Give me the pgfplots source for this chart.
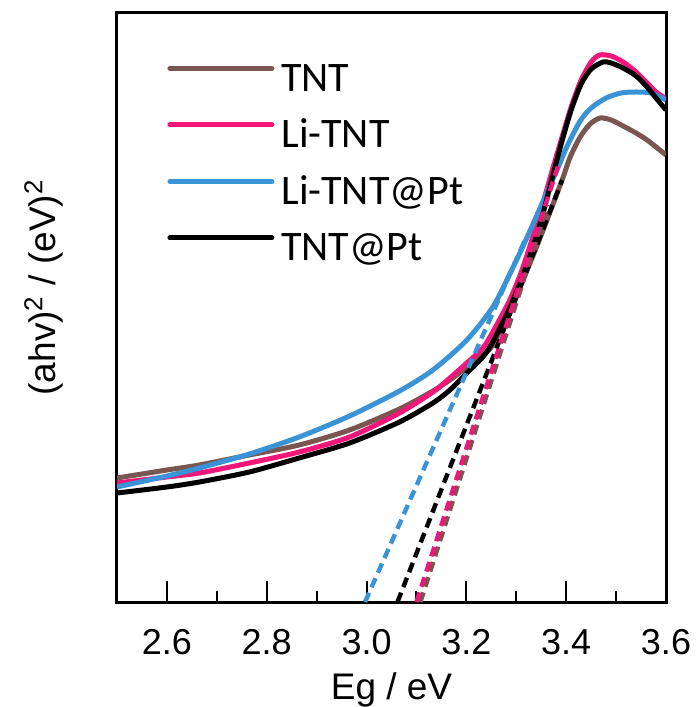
\documentclass[border=0pt]{standalone}
\usepackage{fontspec}
\setmainfont{Liberation Sans}
\newfontfamily\legendfont{Carlito}
\usepackage{pgfplots}
\usepackage{pgfplotstable}
\pgfplotsset{compat=1.18}
\definecolor{cbrown}{RGB}{122,86,80}
\definecolor{cpink}{RGB}{240,22,122}
\definecolor{cblue}{RGB}{58,147,214}

\pgfplotstableread{
x y
2.500 124
2.600 132
2.665 137
2.765 147
2.865 157
2.966 172
3.066 193
3.133 211
3.167 222
3.201 235
3.233 247
3.253 257
3.287 292
3.310 318
3.330 342
3.350 367
3.370 393
3.394 425
3.408 445
3.428 465
3.448 478
3.468 484
3.490 482
3.514 476
3.540 469
3.562 462
3.580 455
3.600 447
}\tnt

\pgfplotstableread{
x y
2.500 119
2.600 125
2.665 129
2.765 139
2.865 150
2.966 165
3.066 189
3.133 210
3.167 224
3.201 239
3.233 254
3.253 270
3.287 302
3.310 330
3.330 360
3.350 393
3.370 428
3.390 462
3.410 495
3.430 522
3.450 540
3.467 547
3.490 546
3.514 540
3.540 530
3.562 519
3.580 510
3.600 503
}\litnt

\pgfplotstableread{
x y
2.500 115
2.600 126
2.665 134
2.765 148
2.865 165
2.966 186
3.066 211
3.133 232
3.201 262
3.253 295
3.287 328
3.310 352
3.330 374
3.360 408
3.384 435
3.402 456
3.428 481
3.450 494
3.480 504
3.510 509
3.540 510
3.570 509
3.600 502
}\litntpt

\pgfplotstableread{
x y
2.500 109
2.600 115
2.665 120
2.765 130
2.865 144
2.966 159
3.066 180
3.133 199
3.167 212
3.201 229
3.233 245
3.253 260
3.287 294
3.310 322
3.330 350
3.350 382
3.370 420
3.390 458
3.410 492
3.430 518
3.450 533
3.474 540
3.490 539
3.514 534
3.540 526
3.562 515
3.580 504
3.600 492
}\tntpt

\begin{document}
\begin{tikzpicture}
\begin{axis}[
  at={(0,0)}, anchor=south west,
  scale only axis,
  width=274.5pt, height=294.5pt,
  xmin=2.5, xmax=3.6, ymin=0, ymax=589,
  axis line style={line width=1.5pt},
  xtick={2.6,2.8,3.0,3.2,3.4,3.6},
  minor x tick num=1,
  ytick=\empty,
  xtick pos=bottom,
  tick align=inside,
  major tick length=10.5pt,
  minor tick length=5.5pt,
  every tick/.style={line width=1pt, black},
  /pgf/number format/assume math mode=true,
  xticklabel style={/pgf/number format/.cd, fixed, fixed zerofill, precision=1, /tikz/.cd,
    font=\fontsize{18}{21}\selectfont, anchor=base, yshift=-26pt},
  xlabel={Eg / eV},
  ylabel={(ahv)\textsuperscript{2} / (eV)\textsuperscript{2}},
  x label style={at={(axis description cs:0.5,0)}, anchor=base, yshift=-48.5pt, font=\fontsize{18.5}{22}\selectfont},
  y label style={at={(axis description cs:-0.1129,0.534)}, anchor=base, rotate=0, font=\fontsize{18.5}{22}\selectfont},
  legend image code/.code={\draw[#1, line cap=round] (0pt,6.5pt) -- (51pt,6.5pt);},
  legend cell align=left,
  legend style={draw=none, fill=none, inner sep=0pt,
    at={(axis description cs:0.0911,0.9151)}, anchor=north west,
    font=\legendfont\fontsize{21}{25}\selectfont,
    nodes={inner sep=0pt, text height=14pt, text depth=4pt},
    row sep=10.25pt,
    /tikz/every even column/.append style={column sep=0pt},
    /tikz/every odd column/.append style={column sep=3.5pt}},
]
\addplot[cbrown, line width=2.5pt, smooth, tension=0.45] table[x=x,y=y]{\tnt};
\addlegendentry{TNT}
\addplot[cpink, line width=2.5pt, smooth, tension=0.45] table[x=x,y=y]{\litnt};
\addlegendentry{Li-TNT}
\addplot[cblue, line width=2.5pt, smooth, tension=0.45] table[x=x,y=y]{\litntpt};
\addlegendentry{Li-TNT@Pt}
\addplot[black, line width=2.5pt, smooth, tension=0.45] table[x=x,y=y]{\tntpt};
\addlegendentry{TNT@Pt}

\addplot[forget plot, cblue, line width=2.2pt, dash pattern=on 5pt off 3pt] coordinates {(2.997,0) (3.320,365)};
\addplot[forget plot, black, line width=2.2pt, dash pattern=on 5pt off 3pt] coordinates {(3.062,0) (3.392,422)};
\addplot[forget plot, cbrown, line width=2.2pt, dash pattern=on 5pt off 3pt] coordinates {(3.108,0) (3.363,397)};
\addplot[forget plot, cpink, line width=2.2pt, dash pattern=on 5pt off 3pt] coordinates {(3.100,0) (3.385,438)};
\end{axis}
\pgfresetboundingbox
\path (-58.5pt,-52.5pt) rectangle (289.5pt,301pt);
\end{tikzpicture}
\end{document}
